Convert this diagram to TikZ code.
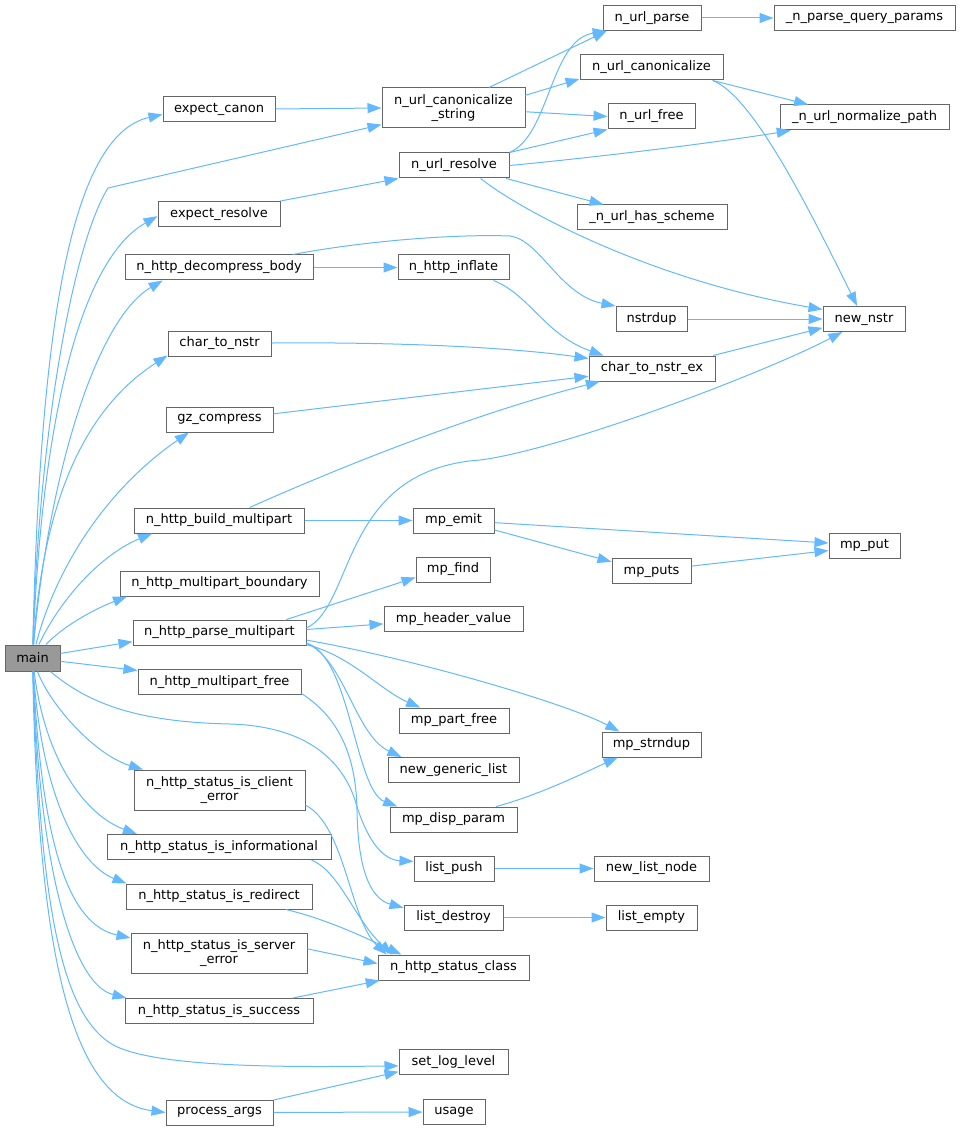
\documentclass[tikz,border=0pt]{standalone}
\usepackage{fontspec}
\setmainfont{DejaVu Sans}
\usepackage{tikz}
\usetikzlibrary{arrows.meta}
\definecolor{edgeblue}{HTML}{63B8FF}
\definecolor{boxgray}{HTML}{666666}
\definecolor{mainfill}{HTML}{999999}

\begin{document}
\begin{tikzpicture}[x=1pt,y=-1pt,
    func/.style={draw=boxgray,line width=1pt,fill=white,inner sep=0pt,
      minimum height=25pt,align=center,font=\fontsize{13}{14}\selectfont},
    func2/.style={func,minimum height=40pt},
    call/.style={color=edgeblue,line width=1pt,-{Triangle[length=14pt,width=10pt]}}]
\useasboundingbox (0,0) rectangle (960,1131);
            % caller
            \node[func,fill=mainfill,minimum width=55pt,minimum height=26pt] (main) at (32.5,658) {main};
            % first level
            \node[func,minimum width=112pt] (expect_canon) at (219,109.5) {expect\_canon};
            \node[func,minimum width=122pt] (expect_resolve) at (219,214) {expect\_resolve};
            \node[func,minimum width=188pt] (decompress_body) at (219,267.5) {n\_http\_decompress\_body};
            \node[func,minimum width=103pt] (char_to_nstr) at (219.5,343.5) {char\_to\_nstr};
            \node[func,minimum width=107pt] (gz_compress) at (219.5,419.5) {gz\_compress};
            \node[func,minimum width=170pt] (build_multipart) at (219,520.5) {n\_http\_build\_multipart};
            \node[func,minimum width=199pt] (multipart_boundary) at (219.5,583.5) {n\_http\_multipart\_boundary};
            \node[func,minimum width=173pt] (parse_multipart) at (219.5,632.5) {n\_http\_parse\_multipart};
            \node[func,minimum width=163pt] (multipart_free) at (219.5,682) {n\_http\_multipart\_free};
            \node[func2,minimum width=171pt] (client_error) at (219.5,790) {n\_http\_status\_is\_client\\\_error};
            \node[func,minimum width=224pt] (informational) at (219,847) {n\_http\_status\_is\_informational};
            \node[func,minimum width=186pt] (redirect) at (219,896.5) {n\_http\_status\_is\_redirect};
            \node[func2,minimum width=176pt] (server_error) at (219,953.5) {n\_http\_status\_is\_server\\\_error};
            \node[func,minimum width=188pt] (success) at (219,1011) {n\_http\_status\_is\_success};
            \node[func,minimum width=107pt] (process_args) at (219.5,1112.5) {process\_args};
            % second level
            \node[func2,minimum width=143pt] (n_url_string) at (453.5,108) {n\_url\_canonicalize\\\_string};
            \node[func,minimum width=110pt] (n_url_resolve) at (454,165.5) {n\_url\_resolve};
            \node[func,minimum width=111pt] (n_http_inflate) at (453.5,267.5) {n\_http\_inflate};
            \node[func,minimum width=81pt] (mp_emit) at (453.5,520.5) {mp\_emit};
            \node[func,minimum width=74pt] (mp_find) at (453,569.5) {mp\_find};
            \node[func,minimum width=139pt] (mp_header_value) at (453.5,619) {mp\_header\_value};
            \node[func,minimum width=110pt] (mp_part_free) at (454,720.5) {mp\_part\_free};
            \node[func,minimum width=131pt] (new_generic_list) at (453.5,770) {new\_generic\_list};
            \node[func,minimum width=127pt] (mp_disp_param) at (453.5,819.5) {mp\_disp\_param};
            \node[func,minimum width=80pt] (list_push) at (454,868.5) {list\_push};
            \node[func,minimum width=99pt] (list_destroy) at (453.5,917.5) {list\_destroy};
            \node[func,minimum width=151pt] (status_class) at (453.5,967.5) {n\_http\_status\_class};
            \node[func,minimum width=109pt] (set_log_level) at (453.5,1062) {set\_log\_level};
            \node[func,minimum width=62pt] (usage) at (454,1112) {usage};
            % third level
            \node[func,minimum width=98pt] (n_url_parse) at (652,18) {n\_url\_parse};
            \node[func,minimum width=143pt] (n_url_canonicalize) at (651.5,67.5) {n\_url\_canonicalize};
            \node[func,minimum width=87pt] (n_url_free) at (651.5,116.5) {n\_url\_free};
            \node[func,minimum width=150pt] (has_scheme) at (652,217.5) {\_n\_url\_has\_scheme};
            \node[func,minimum width=71pt] (nstrdup) at (651.5,319) {nstrdup};
            \node[func,minimum width=126pt] (char_to_nstr_ex) at (652,368.5) {char\_to\_nstr\_ex};
            \node[func,minimum width=79pt] (mp_puts) at (651.5,571) {mp\_puts};
            \node[func,minimum width=99pt] (mp_strndup) at (651.5,744.5) {mp\_strndup};
            \node[func,minimum width=115pt] (new_list_node) at (651.5,868.5) {new\_list\_node};
            \node[func,minimum width=91pt] (list_empty) at (651.5,917.5) {list\_empty};
            % fourth level
            \node[func,minimum width=181pt] (parse_query_params) at (864.5,18) {\_n\_parse\_query\_params};
            \node[func,minimum width=169pt] (normalize_path) at (864.5,117.5) {\_n\_url\_normalize\_path};
            \node[func,minimum width=82pt] (new_nstr) at (864,319) {new\_nstr};
            \node[func,minimum width=71pt] (mp_put) at (864.5,545.5) {mp\_put};

            % calls from main, upwards
            \draw[call] (main) .. controls (40,330) and (70,135) .. (expect_canon.185.6);
            \draw[call] (main) .. controls (38,450) and (70,250) .. (108,188) -- (n_url_string.193);
            \draw[call] (main) .. controls (42,420) and (80,260) .. (expect_resolve.182.8);
            \draw[call] (main) .. controls (48,480) and (95,320) .. (decompress_body.193.5);
            \draw[call] (main) .. controls (42,520) and (75,415) .. (char_to_nstr.193.6);
            \draw[call] (main) .. controls (55,570) and (105,490) .. (gz_compress.203);
            \draw[call] (main) .. controls (60,600) and (100,555) .. (build_multipart.191.4);
            \draw[call] (main) .. controls (70,620) and (105,605) .. (multipart_boundary.188.6);
            \path[call]
                (main) edge (parse_multipart.186.6)
                (main) edge (multipart_free.172.3);
            % calls from main, downwards
            \draw[call] (main.-37) .. controls (90,705) and (140,722) .. (230,724)
                .. controls (300,726) and (340,755) .. (355,800)
                .. controls (368,845) and (385,860) .. (list_push.170.8);
            \draw[call] (main) .. controls (50,705) and (95,755) .. (client_error.165.3);
            \draw[call] (main) .. controls (45,760) and (85,815) .. (informational.171.9);
            \draw[call] (main) .. controls (42,800) and (80,865) .. (redirect.172);
            \draw[call] (main) .. controls (42,850) and (70,925) .. (server_error.170);
            \draw[call] (main) .. controls (40,880) and (75,985) .. (success.172);
            \draw[call] (main) .. controls (40,900) and (60,1010) .. (110,1043)
                .. controls (150,1069) and (300,1067) .. (set_log_level.184);
            \draw[call] (main) .. controls (38,950) and (70,1100) .. (process_args.west);

            % first level calls
            \path[call]
                (expect_canon) edge (n_url_string.west)
                (expect_resolve.north east) edge (n_url_resolve.south west)
                (decompress_body) edge (n_http_inflate)
                (gz_compress.6.9) edge (char_to_nstr_ex.187.8)
                (build_multipart) edge (mp_emit)
                (parse_multipart.11.9) edge (mp_find.192.9)
                (parse_multipart.2) edge (mp_header_value.184)
                (server_error.3) edge (status_class.177.4)
                (success.10.7) edge (status_class.190.3)
                (process_args.13.2) edge (set_log_level.190.4)
                (process_args) edge (usage);
            \draw[call] (decompress_body.10) .. controls (370,240) and (460,234) .. (510,236)
                .. controls (540,240) and (560,295) .. (nstrdup.north west);
            \draw[call] (char_to_nstr) .. controls (380,342) and (500,346) .. (char_to_nstr_ex.171.4);
            \draw[call] (build_multipart.23.3) .. controls (300,485) and (450,420) .. (char_to_nstr_ex.194.3);
            \draw[call] (parse_multipart.3) .. controls (355,605) and (340,470) .. (480,460)
                .. controls (560,450) and (760,375) .. (new_nstr.211.8);
            \draw[call] (parse_multipart.-5) .. controls (420,660) and (570,705) .. (mp_strndup.158.4);
            \draw[call] (parse_multipart.-8) .. controls (350,655) and (380,690) .. (mp_part_free.159.8);
            \draw[call] (parse_multipart.-7) .. controls (345,660) and (355,735) .. (new_generic_list.166.3);
            \draw[call] (parse_multipart.-7) .. controls (350,655) and (355,790) .. (mp_disp_param.167.3);
            \draw[call] (multipart_free.-8.4) .. controls (335,715) and (356,750) .. (357,810)
                .. controls (358,880) and (375,900) .. (list_destroy.169.1);
            \draw[call] (client_error.-10.6) .. controls (345,825) and (350,920) .. (status_class.169.4);
            \draw[call] (informational.-8.1) .. controls (340,872) and (355,920) .. (status_class.168.5);
            \draw[call] (redirect.-11) .. controls (330,920) and (370,940) .. (status_class.166.8);

            % second level calls
            \path[call]
                (n_url_string.30.8) edge (n_url_parse.196.1)
                (n_url_string.10.3) edge (n_url_canonicalize.189.9)
                (n_url_string.-3.2) edge (n_url_free.west)
                (n_url_resolve.north east) edge (n_url_free.south west)
                (n_url_resolve.-14.3) edge (has_scheme.165.7)
                (mp_emit.-3.5) edge (mp_put.176)
                (mp_emit.-13.2) edge (mp_puts.167.2)
                (list_push) edge (new_list_node)
                (list_destroy) edge (list_empty);
            \draw[call] (n_url_resolve.north east) .. controls (550,135) and (550,40) .. (n_url_parse.196.1);
            \draw[call] (n_url_resolve.east) .. controls (600,157) and (720,142) .. (normalize_path.190);
            \draw[call] (n_url_resolve.-26) .. controls (520,210) and (650,280) .. (new_nstr.167.6);
            \draw[call] (n_http_inflate.-18.9) .. controls (530,295) and (545,335) .. (char_to_nstr_ex.165.1);
            \draw[call] (mp_disp_param.17.6) .. controls (540,795) and (590,770) .. (mp_strndup.201.6);

            % third level calls
            \path[call]
                (n_url_parse) edge (parse_query_params)
                (n_url_canonicalize.-12.1) edge (normalize_path.167.1)
                (nstrdup) edge (new_nstr)
                (char_to_nstr_ex.12.8) edge (new_nstr.192.4)
                (mp_puts.7.2) edge (mp_put.188.8);
            \draw[call] (n_url_canonicalize.-12.1) .. controls (750,95) and (800,190) .. (new_nstr.118.3);
        \end{tikzpicture}
\end{document}
